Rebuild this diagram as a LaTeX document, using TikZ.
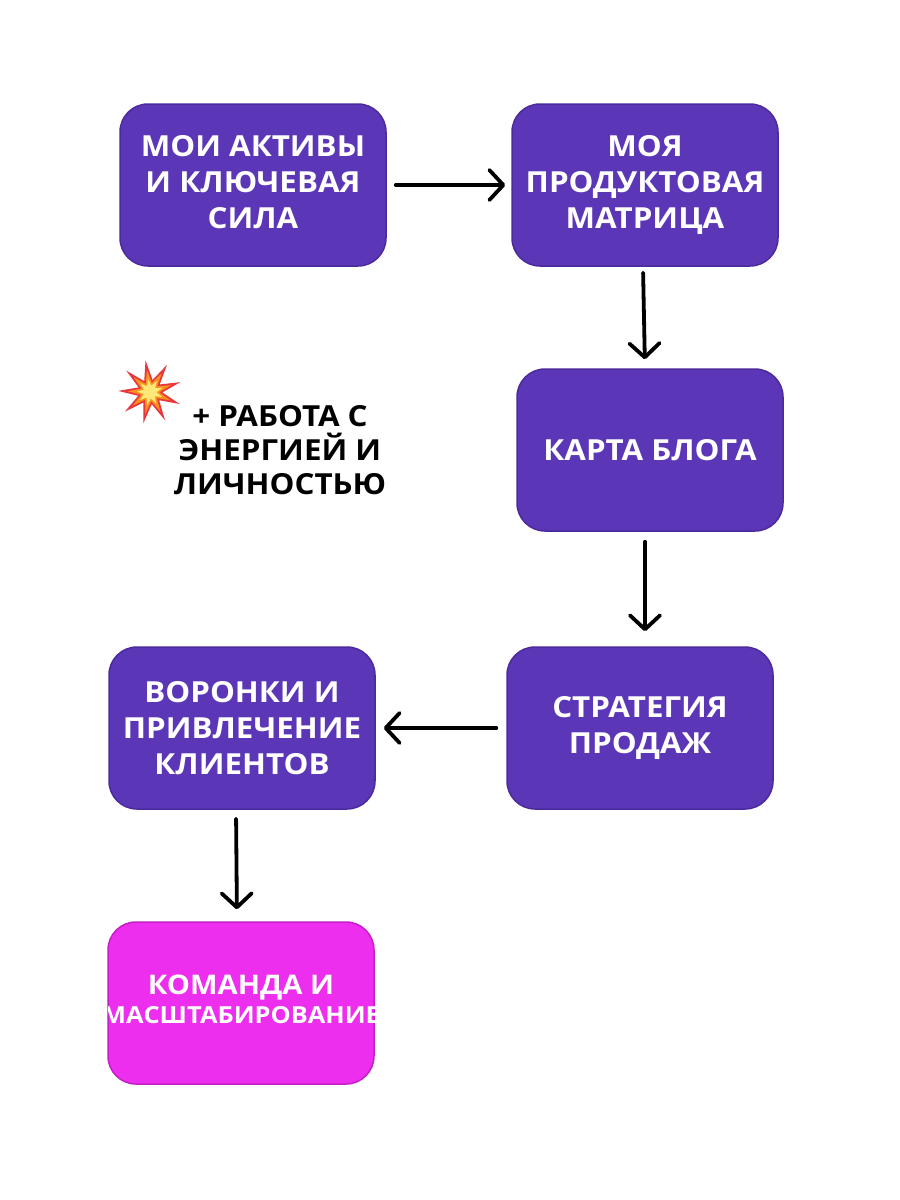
\documentclass[tikz,border=0pt]{standalone}
\usepackage{fontspec}
\setmainfont{Open Sans}[FakeStretch=1.08]
\usetikzlibrary{arrows.meta,shapes.geometric}
\definecolor{boxpurple}{HTML}{5B37B8}
\definecolor{boxedge}{HTML}{4B2A9C}
\definecolor{boxmagenta}{HTML}{EE2EEE}
\definecolor{magentaedge}{HTML}{C41FC6}
\definecolor{boomred}{HTML}{E8383D}
\definecolor{boomorange}{HTML}{F7931E}
\definecolor{boomyellow}{HTML}{FFE877}
\tikzset{
  stepbox/.style={rectangle, rounded corners=28pt, fill=boxpurple, draw=boxedge, line width=1.5pt,
    minimum width=266pt, minimum height=162pt, text=white, align=center,
    font=\bfseries\fontsize{29}{36}\selectfont, inner sep=0pt},
  finalbox/.style={stepbox, fill=boxmagenta, draw=magentaedge},
  flow/.style={draw=black, line width=3.8pt, line cap=round, line join=round,
    -{Straight Barb[length=14pt,width=30pt,line cap=round,line join=round]}},
  note/.style={text=black, align=center, font=\bfseries\fontsize{29}{34}\selectfont},
  burst/.style={star, inner sep=0pt, draw=none}
}
\begin{document}
\begin{tikzpicture}[x=1pt,y=-1pt]
\useasboundingbox[fill=white] (0,0) rectangle (900,1200);

\node[stepbox] (b1) at (253,185) {\raisebox{-2pt}{\begin{tabular}{@{}c@{}}МОИ АКТИВЫ\\И КЛЮЧЕВАЯ\\СИЛА\end{tabular}}};
\node[stepbox] (b2) at (645,185) {МОЯ\\ПРОДУКТОВАЯ\\МАТРИЦА};
\node[stepbox] (b3) at (650,450) {КАРТА БЛОГА};
\node[stepbox] (b4) at (640,728) {СТРАТЕГИЯ\\ПРОДАЖ};
\node[stepbox] (b5) at (242,728) {ВОРОНКИ И\\ПРИВЛЕЧЕНИЕ\\КЛИЕНТОВ};
\begin{scope}
\node[finalbox] (b6) at (241,1003) {};
\clip[rounded corners=28pt] (b6.south west) rectangle (b6.north east);
\node[text=white, align=center, font=\bfseries\fontsize{27}{34}\selectfont] (t6) at (241,999)
  {КОМАНДА И\\[-5pt]{\fontsize{23.5}{28}\selectfont МАСШТАБИРОВАНИЕ}};
\end{scope}

\draw[flow, shorten <=9pt, shorten >=6pt] (b1.east) -- (b2.west);
\draw[flow, shorten <=6pt, shorten >=9pt] ([xshift=-2pt]b2.south) -- ([xshift=-5pt]b3.north);
\draw[flow, shorten <=10pt, shorten >=15pt] ([xshift=-5pt]b3.south) -- ([xshift=5pt]b4.north);
\draw[flow, shorten <=10pt, shorten >=8pt] (b4.west) -- (b5.east);
\draw[flow, shorten <=9pt, shorten >=12pt] ([xshift=-6pt]b5.south) -- ([xshift=-4pt]b6.north);

\node[burst, star points=9, star point ratio=2.6, minimum size=64pt, fill=boomred, rotate=8] (boom1) at (150,392) {};
\node[burst, star points=9, star point ratio=2.4, minimum size=44pt, fill=boomorange, rotate=8] (boom2) at (150,392) {};
\node[burst, star points=9, star point ratio=2.0, minimum size=26pt, fill=boomyellow, rotate=8] (boom3) at (150,392) {};

\node[note] (side) at (280,450) {+ РАБОТА С\\ЭНЕРГИЕЙ И\\ЛИЧНОСТЬЮ};
\end{tikzpicture}
\end{document}
